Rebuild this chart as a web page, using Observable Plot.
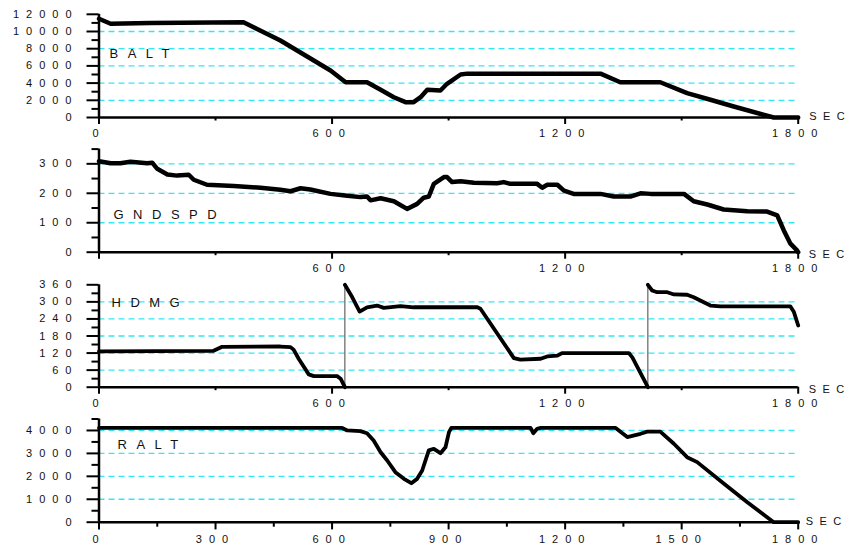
<!DOCTYPE html>
<html><head><meta charset="utf-8">
<script src="https://cdn.jsdelivr.net/npm/d3@7"></script>
<script src="https://cdn.jsdelivr.net/npm/@observablehq/plot@0.6"></script>
<style>
body{margin:0;background:#fff;}
#chart{width:852px;height:551px;position:relative;background:#fff;}
#chart svg{display:block;}
</style></head><body><div id="chart"></div>
<script>
// ---- Data (seconds, values) ----
const baltTime  = [0, 30, 130, 372, 398, 467, 510, 553, 596, 635, 690, 725, 759, 789, 810, 828, 845, 879, 896, 931, 948, 1240, 1291, 1342, 1445, 1514, 1574, 1634, 1737, 1800];
const baltValue = [11480, 10900, 11000, 11080, 10500, 8955, 7790, 6630, 5470, 4100, 4100, 3220, 2360, 1780, 1780, 2360, 3220, 3140, 3920, 5000, 5100, 5100, 5100, 4100, 4100, 2830, 2060, 1280, 0, 0];

const gndTime  = [0, 30, 55, 81, 124, 137, 150, 176, 201, 231, 244, 278, 347, 416, 467, 493, 519, 544, 596, 639, 673, 690, 699, 725, 759, 793, 819, 836, 849, 862, 888, 896, 909, 931, 965, 1025, 1042, 1059, 1128, 1141, 1154, 1180, 1197, 1222, 1291, 1325, 1368, 1394, 1420, 1506, 1531, 1566, 1608, 1669, 1720, 1746, 1763, 1780, 1797, 1800];
const gndValue = [309, 302, 302, 307, 302, 304, 283, 264, 260, 263, 246, 229, 225, 219, 212, 207, 217, 213, 198, 192, 187, 189, 176, 183, 173, 147, 164, 185, 189, 232, 255, 255, 238, 241, 236, 234, 238, 232, 232, 219, 229, 229, 209, 198, 198, 189, 189, 200, 198, 198, 173, 162, 145, 139, 138, 125, 74, 29, 6, 0];

const hdmgTime  = [0, 295, 317, 467, 493, 501, 514, 540, 553, 613, 622, 633, 633, 652, 671, 690, 716, 733, 776, 810, 974, 982, 1068, 1085, 1137, 1154, 1180, 1192, 1364, 1373, 1413, 1413, 1424, 1437, 1463, 1480, 1514, 1531, 1574, 1600, 1780, 1789, 1800];
const hdmgValue = [126, 128, 142, 143, 141, 132, 100, 45, 39, 39, 30, 0, 360, 316, 266, 281, 287, 279, 285, 281, 281, 276, 102, 97, 100, 108, 111, 120, 120, 105, 0, 360, 340, 334, 334, 326, 325, 316, 287, 284, 284, 264, 217];

const raltTime  = [0, 626, 639, 673, 690, 707, 725, 742, 763, 785, 804, 819, 832, 849, 862, 879, 892, 901, 907, 1111, 1118, 1128, 1137, 1330, 1360, 1394, 1411, 1445, 1480, 1514, 1540, 1609, 1669, 1737, 1800];
const raltValue = [4110, 4110, 4000, 3970, 3880, 3560, 3050, 2690, 2180, 1890, 1700, 1890, 2255, 3130, 3200, 3010, 3270, 3925, 4110, 4110, 3880, 4075, 4110, 4110, 3710, 3855, 3950, 3950, 3420, 2835, 2620, 1675, 870, 0, 0];

// ---- Tick labels ----
const xMajor3   = [0, 600, 1200, 1800];
const xMinor3   = [300, 900, 1500];
const xMajor4   = [0, 300, 600, 900, 1200, 1500, 1800];
const xMinor4   = [150, 450, 750, 1050, 1350, 1650];
const baltTicks = [0, 2000, 4000, 6000, 8000, 10000, 12000];
const baltMinor = [1000, 3000, 5000, 7000, 9000, 11000];
const gndTicks  = [0, 100, 200, 300];
const gndMinor  = [50, 150, 250, 350];
const hdmgTicks = [0, 60, 120, 180, 240, 300, 360];
const hdmgMinor = [30, 90, 150, 210, 270, 330];
const raltTicks = [0, 1000, 2000, 3000, 4000];
const raltMinor = [500, 1500, 2500, 3500, 4500];
const names = ["BALT", "GNDSPD", "HDMG", "RALT"];
const unit = "SEC";

const GRID = "#33e8f5";
const FONT = '"Liberation Sans", Arial, Helvetica, sans-serif';

function panel(cfg) {
  const data = cfg.time.map((t, i) => ({t, v: cfg.value[i], seg: 0}));
  const links = [];
  let seg = 0;
  data.forEach((d, i) => {
    if (cfg.wrap && i > 0 && Math.abs(d.v - data[i - 1].v) > 180) {
      seg++;
      links.push({t1: data[i - 1].t, v1: data[i - 1].v, t2: d.t, v2: d.v});
    }
    d.seg = seg;
  });
  const marks = [
    Plot.ruleY(cfg.grid, {stroke: GRID, strokeWidth: 1.3, strokeDasharray: "6,4"}),
    Plot.axisY({ticks: cfg.yMinor, tickSize: 7, tickFormat: () => "", strokeWidth: 2, label: null, stroke: "#000"}),
    Plot.axisY({ticks: cfg.yMajor, tickSize: 12, tickPadding: 8.5, tickFormat: d => String(d), strokeWidth: 2, label: null, stroke: "#000", fill: "#111"}),
    Plot.axisX({ticks: cfg.xMinor, tickSize: cfg.xMinorSize, tickFormat: () => "", strokeWidth: 2, label: null, stroke: "#000"}),
    Plot.axisX({ticks: cfg.xMajor, tickSize: cfg.xMajorSize, tickPadding: 5, tickFormat: d => cfg.xLabels.includes(d) ? String(d) : "", strokeWidth: 2, label: null, stroke: "#000", fill: "#111"}),
    Plot.ruleX([0], {stroke: "#000", strokeWidth: 2.5}),
    Plot.ruleY([0], {stroke: "#000", strokeWidth: 2.5})
  ];
  if (cfg.wrap) marks.push(Plot.link(links, {x1: "t1", y1: "v1", x2: "t2", y2: "v2", stroke: "#444", strokeWidth: 1}));
  marks.push(
    Plot.line(data, {x: "t", y: "v", z: "seg", stroke: "#000", strokeWidth: cfg.lw, strokeLinejoin: "round", strokeLinecap: "round"}),
    Plot.text([cfg.name], {text: d => d, frameAnchor: "top-left", textAnchor: "start", dx: cfg.nameDx, dy: cfg.nameDy, fontSize: 13, fill: "#111"}),
    Plot.text([unit], {text: d => d, frameAnchor: "bottom-right", textAnchor: "start", dx: cfg.secDx, dy: cfg.secDy, fill: "#111"})
  );
  const svg = Plot.plot({
    width: 852, height: cfg.height,
    marginLeft: 98.5, marginRight: 54.3, marginTop: cfg.mt, marginBottom: cfg.mb,
    x: {domain: [0, 1800]},
    y: {domain: cfg.yDomain},
    style: {fontFamily: FONT, fontSize: "11px", letterSpacing: "7px", color: "#111", background: "#fff", overflow: "visible"},
    marks
  });
  d3.select(svg).selectAll("text").filter(function() { return this.textContent === cfg.name; })
    .style("letter-spacing", "9.5px");
  d3.select(svg).selectAll("text").filter(function() { return this.textContent === unit; })
    .style("letter-spacing", "6.5px");
  return svg;
}

const chart = document.getElementById("chart");
chart.appendChild(panel({
  time: baltTime, value: baltValue, name: names[0], height: 140, mt: 13.8, mb: 23,
  yDomain: [0, 12000], yMajor: baltTicks, yMinor: baltMinor, grid: baltTicks.slice(1, -1),
  xMajor: xMajor3, xLabels: xMajor3, xMinor: xMinor3, xMajorSize: 7, xMinorSize: 3.5,
  lw: 4.5, nameDx: 10.5, nameDy: 34.2, secDx: 11, secDy: 2
}));
chart.appendChild(panel({
  time: gndTime, value: gndValue, name: names[1], height: 135, mt: 8.6, mb: 23.3,
  yDomain: [0, 350], yMajor: gndTicks, yMinor: gndMinor, grid: gndTicks.slice(1),
  xMajor: xMajor3, xLabels: xMajor3.slice(1), xMinor: xMinor3, xMajorSize: 7, xMinorSize: 3.5,
  lw: 4.5, nameDx: 14.5, nameDy: 60.4, secDx: 10.5, secDy: 6
}));
chart.appendChild(panel({
  time: hdmgTime, value: hdmgValue, name: names[2], height: 135, mt: 9.3, mb: 23.3, wrap: true,
  yDomain: [0, 360], yMajor: hdmgTicks, yMinor: hdmgMinor, grid: hdmgTicks.slice(1, -1),
  xMajor: xMajor3, xLabels: xMajor3, xMinor: xMinor3, xMajorSize: 7, xMinorSize: 3.5,
  lw: 3.8, nameDx: 12.5, nameDy: 12.7, secDx: 10.5, secDy: 5.5
}));
chart.appendChild(panel({
  time: raltTime, value: raltValue, name: names[3], height: 141, mt: 8.5, mb: 29.3,
  yDomain: [0, 4500], yMajor: raltTicks, yMinor: raltMinor, grid: raltTicks.slice(1),
  xMajor: xMajor4, xLabels: xMajor4, xMinor: xMinor4, xMajorSize: 7.7, xMinorSize: 5,
  lw: 3.8, nameDx: 18.5, nameDy: 20.5, secDx: 7.5, secDy: 2.5
}));
</script></body></html>
